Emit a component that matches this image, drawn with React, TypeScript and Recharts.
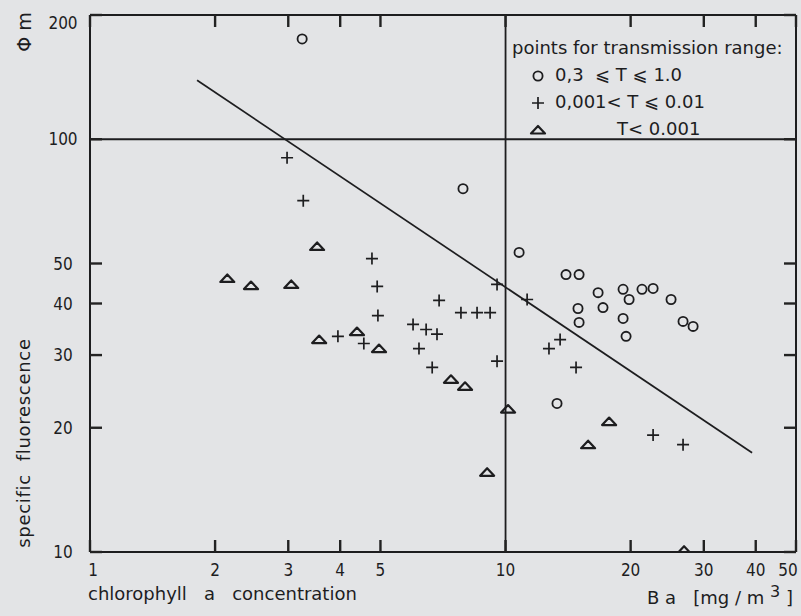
import { ScatterChart, Scatter, XAxis, YAxis, ReferenceLine } from 'recharts';

// points, [chlorophyll a (mg/m3), specific fluorescence]
const highT = [
  [3.24, 175], [7.9, 75.9], [10.78, 53.2], [13.98, 47.0], [15.03, 47.0], [16.7, 42.5],
  [19.18, 43.3], [19.83, 40.9], [21.3, 43.3], [22.65, 43.5], [25.02, 40.9], [14.94, 38.9],
  [17.16, 39.1], [15.03, 36.0], [19.18, 36.8], [19.5, 33.3], [26.74, 36.2], [28.27, 35.2],
  [13.3, 22.9],
];
const midT = [
  [2.98, 90.2], [3.26, 71.0], [4.77, 51.4], [4.91, 44.0], [4.93, 37.4], [3.95, 33.3],
  [4.56, 32.0], [6.92, 40.7], [7.81, 38.0], [8.54, 38.0], [9.18, 38.0], [5.99, 35.6],
  [6.44, 34.6], [6.84, 33.7], [6.19, 31.1], [6.66, 28.0], [9.54, 44.5], [11.27, 40.9],
  [9.54, 29.0], [12.72, 31.1], [13.53, 32.7], [14.78, 28.0], [22.65, 19.2], [26.74, 18.2],
];
const lowT = [
  [2.14, 46.0], [2.44, 44.2], [3.05, 44.5], [3.52, 55.0], [3.56, 32.7], [4.39, 34.2],
  [4.96, 31.1], [7.39, 26.2], [7.99, 25.2], [9.03, 15.6], [10.14, 22.2], [17.75, 20.7],
  [15.8, 18.2], [26.89, 10.1],
];
const fitLine = [[1.81, 139], [39.2, 17.4]];

const xTicks = [1, 2, 3, 4, 5, 10, 20, 30, 40, 50];
const yTicks = [10, 20, 30, 40, 50, 100, 200];

const toPts = (arr: number[][]) => arr.map(([x, y]) => ({ x, y }));

const ink = '#1d1d1f';
const paper = '#e3e4e6';
const numFont = '"DejaVu Sans Condensed", "DejaVu Sans", sans-serif';
const txtFont = '"DejaVu Sans", sans-serif';
const TICK = 12;

const Ring = ({ cx, cy }: any) => (
  <circle cx={cx} cy={cy} r={4.6} fill="none" stroke={ink} strokeWidth={1.8} />
);
const Cross = ({ cx, cy }: any) => (
  <path d={`M${cx - 6},${cy}H${cx + 6}M${cx},${cy - 6}V${cy + 6}`} stroke={ink} strokeWidth={1.7} />
);
const Tri = ({ cx, cy }: any) => (
  <path
    d={`M${cx - 7},${cy + 3.5}L${cx},${cy - 4}L${cx + 7},${cy + 3.5}Z`}
    fill="none" stroke={ink} strokeWidth={2.2} strokeLinejoin="round"
  />
);

// axis ticks point into the plot, like the original
const LeftTick = ({ x, y, payload }: any) => (
  <g>
    <line x1={x} x2={x + TICK} y1={y} y2={y} stroke="#222" strokeWidth={2.4} />
    <text x={x - 27} y={y + (payload.value === 200 ? 8 : 0)} dy="0.36em" textAnchor="middle"
      fontFamily={numFont} fontSize={17} fill={ink}>
      {payload.value}
    </text>
  </g>
);
const BottomTick = ({ x, y, payload }: any) => {
  const shift = payload.value === 1 ? 3 : payload.value === 50 ? -8 : 0;
  return (
    <g>
      <line x1={x} x2={x} y1={y} y2={y - TICK} stroke="#222" strokeWidth={2.4} />
      <text x={x + shift} y={y + 18} dy="0.36em" textAnchor="middle" fontFamily={numFont} fontSize={17} fill={ink}>
        {payload.value}
      </text>
    </g>
  );
};
const TopTick = ({ x, y }: any) => (
  <line x1={x} x2={x} y1={y} y2={y + TICK} stroke="#222" strokeWidth={2.4} />
);
const RightTick = ({ x, y }: any) => (
  <line x1={x} x2={x - TICK} y1={y} y2={y} stroke="#222" strokeWidth={2.4} />
);

const legendRows = [
  { sym: 'ring', text: '0,3  ⩽ T ⩽ 1.0', pad: 0 },
  { sym: 'cross', text: '0,001< T ⩽ 0.01', pad: 0 },
  { sym: 'tri', text: 'T< 0.001', pad: 62 },
];

function LegendSym({ kind }: { kind: string }) {
  return (
    <svg width={18} height={16} style={{ verticalAlign: 'middle', marginRight: 8 }}>
      {kind === 'ring' && <Ring cx={9} cy={8} />}
      {kind === 'cross' && <Cross cx={9} cy={8} />}
      {kind === 'tri' && <Tri cx={9} cy={8} />}
    </svg>
  );
}

export default function App() {
  return (
    <div style={{ position: 'relative', width: 801, height: 616, background: paper }}>
      <style>{'body{margin:0}'}</style>
      <ScatterChart width={801} height={616} margin={{ top: 0, right: 0, bottom: 0, left: 0 }}>
        <XAxis
          dataKey="x" type="number" scale="log" domain={[1, 50]} allowDataOverflow
          ticks={xTicks} interval={0} height={64} tickSize={0} tickMargin={0}
          axisLine={{ stroke: ink, strokeWidth: 2 }} tickLine={false}
          tick={<BottomTick />}
        />
        <XAxis
          xAxisId="top" orientation="top" dataKey="x" type="number" scale="log" domain={[1, 50]} allowDataOverflow
          ticks={xTicks} interval={0} height={15} tickSize={0} tickMargin={0} tick={<TopTick />}
          axisLine={{ stroke: ink, strokeWidth: 2 }} tickLine={false}
        />
        <YAxis
          dataKey="y" type="number" scale="log" domain={[10, 200]} allowDataOverflow
          ticks={yTicks} interval={0} width={90} tickSize={0} tickMargin={0}
          axisLine={{ stroke: ink, strokeWidth: 2 }} tickLine={false}
          tick={<LeftTick />}
        />
        <YAxis
          yAxisId="right" orientation="right" dataKey="y" type="number" scale="log" domain={[10, 200]} allowDataOverflow
          ticks={yTicks} interval={0} width={5} tickSize={0} tickMargin={0} tick={<RightTick />}
          axisLine={{ stroke: ink, strokeWidth: 2 }} tickLine={false}
        />
        <ReferenceLine x={10} stroke={ink} strokeWidth={1.8} />
        <ReferenceLine y={100} stroke={ink} strokeWidth={1.8} />
        {/* regression line sits on the mirror axes (same domains) so they get their ticks */}
        <Scatter data={toPts(fitLine)} xAxisId="top" yAxisId="right" line={{ stroke: ink, strokeWidth: 1.7 }}
          shape={() => <g />} isAnimationActive={false} />
        <Scatter data={toPts(highT)} shape={<Ring />} isAnimationActive={false} />
        <Scatter data={toPts(midT)} shape={<Cross />} isAnimationActive={false} />
        <Scatter data={toPts(lowT)} shape={<Tri />} isAnimationActive={false} />
      </ScatterChart>

      {/* axis titles */}
      <svg width={801} height={616} style={{ position: 'absolute', left: 0, top: 0, pointerEvents: 'none' }}>
        <text x={88} y={600} fontFamily={txtFont} fontSize={18} fill={ink} style={{ whiteSpace: 'pre' }}>
          {'chlorophyll   a   concentration'}
        </text>
        <text x={793} y={604} textAnchor="end" fontFamily={txtFont} fontSize={18} fill={ink} style={{ whiteSpace: 'pre' }}>
          {'B a   [mg / m '}
          <tspan dy={-7} fontSize={16}>3</tspan>
          <tspan dy={7}>{' ]'}</tspan>
        </text>
        <text x={24} y={443} transform="rotate(-90 24 443)" textAnchor="middle" dy="0.36em" fontFamily={txtFont}
          fontSize={18} fill={ink} letterSpacing={0.7} style={{ whiteSpace: 'pre' }}>
          {'specific  fluorescence'}
        </text>
        <text x={24} y={32} transform="rotate(-90 24 32)" textAnchor="middle" dy="0.36em" fontFamily={txtFont}
          fontSize={19} fill={ink}>
          Φ m
        </text>
      </svg>

      <div style={{ position: 'absolute', left: 512, top: 34, fontFamily: txtFont, fontSize: 18, color: ink, lineHeight: '27px', whiteSpace: 'pre' }}>
        <div>points for transmission range:</div>
        {legendRows.map((r) => (
          <div key={r.sym} style={{ paddingLeft: 17 }}>
            <LegendSym kind={r.sym} />
            <span style={{ paddingLeft: r.pad }}>{r.text}</span>
          </div>
        ))}
      </div>
    </div>
  );
}
